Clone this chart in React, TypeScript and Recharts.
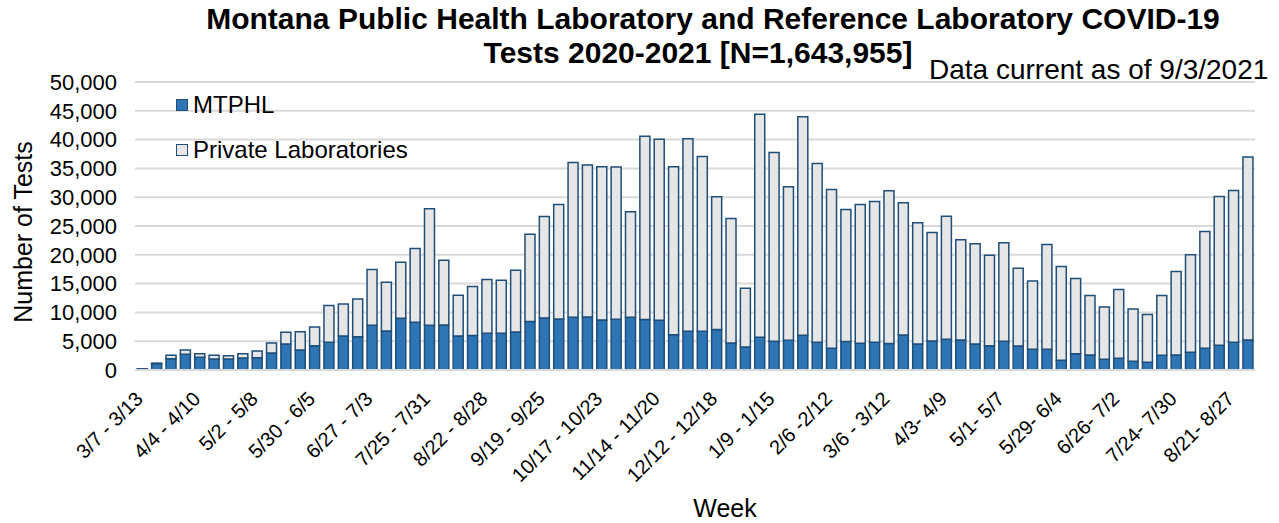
import React from 'react'
import { BarChart, Bar, XAxis, YAxis, CartesianGrid, Legend } from 'recharts'

// weekly windows, 3/7/2020 to 9/3/2021
const weeks = [
  '3/7 - 3/13', '3/14 - 3/20', '3/21 - 3/27', '3/28 - 4/3',
  '4/4 - 4/10', '4/11 - 4/17', '4/18 - 4/24', '4/25 - 5/1',
  '5/2 - 5/8', '5/9 - 5/15', '5/16 - 5/22', '5/23 - 5/29',
  '5/30 - 6/5', '6/6 - 6/12', '6/13 - 6/19', '6/20 - 6/26',
  '6/27 - 7/3', '7/4 - 7/10', '7/11 - 7/17', '7/18 - 7/24',
  '7/25 - 7/31', '8/1 - 8/7', '8/8 - 8/14', '8/15 - 8/21',
  '8/22 - 8/28', '8/29 - 9/4', '9/5 - 9/11', '9/12 - 9/18',
  '9/19 - 9/25', '9/26 - 10/2', '10/3 - 10/9', '10/10 - 10/16',
  '10/17 - 10/23', '10/24 - 10/30', '10/31 - 11/6', '11/7 - 11/13',
  '11/14 - 11/20', '11/21 - 11/27', '11/28 - 12/4', '12/5 - 12/11',
  '12/12 - 12/18', '12/19 - 12/25', '12/26 - 1/1', '1/2 - 1/8',
  '1/9 - 1/15', '1/16 - 1/22', '1/23 - 1/29', '1/30 - 2/5',
  '2/6 -2/12', '2/13 - 2/19', '2/20 - 2/26', '2/27 - 3/5',
  '3/6 - 3/12', '3/13 - 3/19', '3/20 - 3/26', '3/27 - 4/2',
  '4/3- 4/9', '4/10- 4/16', '4/17- 4/23', '4/24- 4/30',
  '5/1- 5/7', '5/8- 5/14', '5/15- 5/21', '5/22- 5/28',
  '5/29- 6/4', '6/5- 6/11', '6/12- 6/18', '6/19- 6/25',
  '6/26- 7/2', '7/3- 7/9', '7/10- 7/16', '7/17- 7/23',
  '7/24- 7/30', '7/31- 8/6', '8/7- 8/13', '8/14- 8/20',
  '8/21- 8/27', '8/28- 9/3',
]

const mtphl = [
  180, 1100, 1970, 2720, 2200, 1910, 1910, 2090, 2140, 2950,
  4520, 3480, 4230, 4810, 5910, 5790, 7760, 6780, 8980, 8290,
  7760, 7820, 5910, 5970, 6370, 6370, 6600, 8400, 9040, 8860,
  9150, 9210, 8690, 8810, 9150, 8750, 8630, 6140, 6720, 6720,
  7010, 4690, 4000, 5680, 4980, 5160, 6030, 4810, 3770, 4930,
  4640, 4810, 4580, 6080, 4520, 5040, 5330, 5210, 4520, 4230,
  4980, 4170, 3590, 3590, 1680, 2840, 2610, 1850, 2030, 1510,
  1330, 2550, 2610, 3070, 3770, 4290, 4810, 5210,
]

const privateLabs = [
  20, 100, 580, 760, 640, 640, 580, 750, 1160, 1740,
  2030, 3180, 3240, 6370, 5560, 6550, 9680, 8460, 9730, 12800,
  20230, 11240, 7070, 8520, 9330, 9220, 10720, 15180, 17610, 19880,
  26890, 26360, 26600, 26420, 18310, 31810, 31410, 29150, 33430, 30360,
  23060, 21610, 10200, 38700, 32800, 26650, 37950, 31060, 27580, 22940,
  24100, 24450, 26540, 22950, 21030, 18830, 21380, 17390, 17380, 15700,
  17100, 13500, 11880, 18200, 16280, 13040, 10310, 9100, 11930, 9090,
  8290, 10370, 14480, 16920, 20280, 25840, 26360, 31760,
]

const yTicks = [0, 5000, 10000, 15000, 20000, 25000, 30000, 35000, 40000, 45000, 50000]

const data = weeks.map((week, i) => ({
  week,
  MTPHL: mtphl[i],
  'Private Laboratories': privateLabs[i],
}))

const FONT = '"Liberation Sans", Arial, sans-serif'

function WeekTick(props: any) {
  const { x, y, payload } = props
  const ax = x + 2
  const ay = y + 30
  return (
    <text
      x={ax}
      y={ay}
      transform={`rotate(-45, ${ax}, ${ay})`}
      textAnchor="end"
      fontSize={20}
      fontFamily={FONT}
      fill="#000"
    >
      {payload.value}
    </text>
  )
}

function LegendBox() {
  const items = [
    { name: 'MTPHL', fill: '#2E75B6' },
    { name: 'Private Laboratories', fill: '#E7E6E6' },
  ]
  return (
    <div style={{ fontFamily: FONT, fontSize: 24, color: '#000' }}>
      {items.map((it) => (
        <div key={it.name} style={{ display: 'flex', alignItems: 'center', height: 45 }}>
          <span
            style={{
              width: 10,
              height: 10,
              background: it.fill,
              border: '1.5px solid #1F4E79',
              marginRight: 5,
            }}
          />
          {it.name}
        </div>
      ))}
    </div>
  )
}

export default function App() {
  return (
    <div style={{ position: 'absolute', left: 0, top: 0, width: 1279, height: 523, background: '#fff' }}>
      <BarChart
        width={1279}
        height={523}
        data={data}
        margin={{ top: 82, right: 24, left: 0, bottom: 0 }}
        barCategoryGap="16%"
      >
        <CartesianGrid vertical={false} stroke="#D9D9D9" strokeWidth={2} />
        <XAxis
          dataKey="week"
          interval={3}
          height={153}
          tick={<WeekTick />}
          tickLine={false}
          tickSize={0}
          tickMargin={0}
          axisLine={{ stroke: '#D9D9D9', strokeWidth: 2 }}
        />
        <YAxis
          width={135}
          domain={[0, 50000]}
          ticks={yTicks}
          interval={0}
          tickFormatter={(v: number) => v.toLocaleString('en-US')}
          axisLine={false}
          tickLine={false}
          tickSize={0}
          tickMargin={18}
          tick={{ fontSize: 22, fill: '#000', fontFamily: FONT }}
        />
        <Legend
          verticalAlign="middle"
          layout="horizontal"
          content={<LegendBox />}
          wrapperStyle={{ position: 'absolute', left: 176, top: 82, width: 'auto' }}
        />
        <Bar
          dataKey="MTPHL"
          stackId="a"
          fill="#2E75B6"
          stroke="#1F4E79"
          strokeWidth={1.5}
          isAnimationActive={false}
        />
        <Bar
          dataKey="Private Laboratories"
          stackId="a"
          fill="#E7E6E6"
          stroke="#1F4E79"
          strokeWidth={1.5}
          isAnimationActive={false}
        />
      </BarChart>
      <svg
        width={1279}
        height={523}
        style={{ position: 'absolute', left: 0, top: 0, pointerEvents: 'none' }}
        fontFamily={FONT}
      >
        <text x={713} y={29} textAnchor="middle" fontSize={30} fontWeight="bold">
          Montana Public Health Laboratory and Reference Laboratory COVID-19
        </text>
        <text x={698} y={63} textAnchor="middle" fontSize={30} fontWeight="bold">
          Tests 2020-2021 [N=1,643,955]
        </text>
        <text x={929} y={79} fontSize={28}>
          Data current as of 9/3/2021
        </text>
        <text transform="translate(32,232) rotate(-90)" textAnchor="middle" fontSize={25}>
          Number of Tests
        </text>
        <text x={725} y={517} textAnchor="middle" fontSize={25}>
          Week
        </text>
      </svg>
    </div>
  )
}
